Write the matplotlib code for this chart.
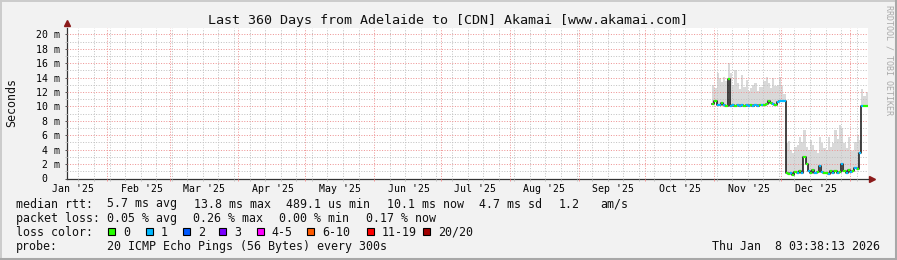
import numpy as np
import matplotlib
matplotlib.use('Agg')
import matplotlib.pyplot as plt
import matplotlib.dates as mdates
from matplotlib.patches import Rectangle
from matplotlib.lines import Line2D

plt.rcParams['font.family'] = ['DejaVu Sans Mono', 'DejaVu Sans']

# daily values, first day 2025-10-31 (ms)
dia_inicio = np.datetime64('2025-10-31')

mediana = [
    10.3, 10.8, 10.2, 10.2, 10.5, 10.2, 10.1,   # Oct31-Nov6
    13.8, 10.1, 10.2, 10.1, 10.2, 10.1, 10.2,   # Nov7-13
    10.1, 10.2, 10.1, 10.2, 10.1, 10.2, 10.1,   # Nov14-20
    10.2, 10.2, 10.2, 10.4, 10.7, 10.5, 10.4,   # Nov21-27
    10.2, 10.6, 10.7, 10.7, 10.7,               # Nov28-Dec2
    0.7, 0.6, 0.8, 0.5, 0.9, 0.7, 1.0,          # Dec3-9
    0.8, 3.0, 2.0, 1.1, 0.8, 1.2, 0.7,          # Dec10-16
    0.9, 1.8, 0.9, 0.7, 0.8, 0.6, 1.0,          # Dec17-23
    0.7, 1.1, 0.8, 0.9, 2.0, 1.0, 0.8,          # Dec24-30
    1.2, 0.9, 1.1, 1.5, 1.3, 3.6,               # Dec31-Jan5
    10.1, 10.1, 10.1,                           # Jan6-8
]

humo_max = [
    13.0, 12.6, 14.6, 13.9, 13.4, 14.1, 13.5,
    16.0, 14.6, 12.9, 15.1, 13.2, 12.4, 14.4,
    12.7, 13.7, 12.2, 12.5, 13.0, 13.2, 12.1,
    12.7, 12.7, 13.6, 14.1, 13.2, 12.5, 13.9,
    12.8, 13.0, 14.1, 12.9, 11.8,
    4.9, 5.2, 4.0, 3.6, 4.4, 4.6, 5.8,
    5.0, 6.7, 4.4, 3.9, 5.3, 4.6, 4.0,
    3.5, 5.8, 4.9, 4.2, 4.0, 5.8, 4.4,
    4.9, 6.7, 5.5, 7.4, 7.0, 4.9, 4.3,
    5.8, 4.0, 3.8, 5.1, 6.0, 5.3,
    12.4, 11.5, 12.0,
]

# lost pings out of 20, per day
perdida = [
    0, 0, 1, 1, 0, 1, 0,
    0, 1, 1, 0, 1, 1, 1,
    0, 1, 1, 0, 1, 1, 1,
    0, 1, 0, 0, 0, 0, 1,
    0, 1, 1, 1, 1,
    0, 0, 1, 0, 0, 1, 0,
    1, 0, 0, 1, 0, 0, 1,
    0, 1, 1, 0, 0, 1, 0,
    1, 0, 1, 0, 1, 0, 1,
    0, 1, 0, 1, 0, 1,
    1, 0, 0,
]

colores_perdida = ['#26FF00', '#00B8FF', '#0059FF', '#7A00FF',
                   '#FF00FF', '#FF5A00', '#FF0000', '#A10000']
etiquetas_perdida = ['0', '1', '2', '3', '4-5', '6-10', '11-19', '20/20']

meses = ['Jan', 'Feb', 'Mar', 'Apr', 'May', 'Jun',
         'Jul', 'Aug', 'Sep', 'Oct', 'Nov', 'Dec']
inicio_meses = np.arange('2025-02', '2026-02', dtype='datetime64[M]')
meses_etiqueta = np.arange('2025-01', '2026-01', dtype='datetime64[M]')

ytick_vals = list(range(0, 21, 2))
ytick_labels = [' 0'] + ['%2d m' % v for v in ytick_vals[1:]]

W, H = 897, 260


def fig_xy(x, y):
    return x / W, 1 - y / H


def a_num(d):
    return mdates.date2num(np.asarray(d).astype('datetime64[s]').astype(object))


fig = plt.figure(figsize=(W / 100, H / 100), dpi=100, facecolor='#F2F2F2')
ax = fig.add_axes([66.7 / W, (H - 178.5) / H, (868 - 66.7) / W, (178.5 - 28) / H])
ax.set_facecolor('white')

fechas = dia_inicio + np.arange(len(mediana))
x0 = a_num(fechas)
x1 = x0 + 1
x_ext = np.append(x0, x1[-1])
med_ext = np.append(mediana, mediana[-1])
humo_ext = np.append(humo_max, humo_max[-1])

# smoke
ax.fill_between(x_ext, med_ext, humo_ext, step='post', color='#D9D9D9', lw=0, zorder=1)
# median line: black steps, loss-coloured segments on top
ax.step(x_ext, med_ext, where='post', color='#111111', lw=1.1, zorder=3)
ax.hlines(mediana, x0, x1, colors=[colores_perdida[p] for p in perdida], lw=1.6, zorder=4)

# grid
ax.set_xticks(a_num(inicio_meses))
ax.set_xticklabels([])
ax.xaxis.set_minor_locator(mdates.WeekdayLocator(byweekday=mdates.SU))
ax.set_yticks(ytick_vals, ytick_labels)
ax.set_yticks(range(0, 21), minor=True)
ax.grid(True, which='major', color='#EE9494', lw=0.72, ls=(0, (1, 1.6)))
ax.grid(True, which='minor', color='#C2C2C2', lw=0.72, ls=(0, (1, 1.6)))
ax.set_axisbelow(False)

# axes ranges (after the ticks, so they are not widened)
ax.set_xlim(a_num(np.datetime64('2025-01-13T18:00')), a_num(np.datetime64('2026-01-09T02:00')))
ax.set_ylim(0, 20.9)

ax.tick_params(axis='both', which='both', direction='out', length=1.5, width=0.72)
ax.tick_params(axis='x', which='major', color='#EE9494')
ax.tick_params(axis='x', which='minor', color='#C2C2C2')
ax.tick_params(axis='y', which='major', color='#555555', labelsize=7.1, pad=20.8)
ax.tick_params(axis='y', which='minor', color='#C2C2C2')
for t in ax.get_yticklabels():
    t.set_ha('left')

for s in ['top', 'right']:
    ax.spines[s].set_visible(False)
for s in ['left', 'bottom']:
    ax.spines[s].set_color('#333333')
    ax.spines[s].set_linewidth(0.9)

# month labels in the middle of each month
mitad_meses = a_num(meses_etiqueta.astype('datetime64[D]') + 15) + 0.5
etiquetas_meses = ["%s '25" % m for m in meses]
sec = ax.secondary_xaxis('bottom')
sec.set_xticks(mitad_meses, etiquetas_meses)
sec.tick_params(length=0, labelsize=7.1, pad=4.0)
sec.spines['bottom'].set_visible(False)

# arrows at the axis ends
ax.plot([0], [1.032], marker='^', ms=5, color='#8B1A1A', transform=ax.transAxes, clip_on=False)
ax.plot([1.0045], [0], marker='>', ms=5, color='#8B1A1A', transform=ax.transAxes, clip_on=False)

# texts
fig.text(*fig_xy(448, 24), 'Last 360 Days from Adelaide to [CDN] Akamai [www.akamai.com]',
         ha='center', va='baseline', fontsize=9.6, color='#111111')
fig.text(*fig_xy(11.7, 102.5), 'Seconds', rotation=90, ha='center', va='center',
         fontsize=8.4, color='#111111')
fig.text(*fig_xy(889, 5), 'RRDTOOL / TOBI OETIKER', rotation=270, ha='center', va='top',
         fontsize=6, color='#AAAAAA')

tam = 8.35
col = '#111111'
b1, b2, b3, b4 = 207.5, 221.7, 235.9, 250.1
fig.text(*fig_xy(16, b1), 'median rtt:', fontsize=tam, color=col, va='baseline')
for x, s in [(107.3, '5.7 ms avg'), (194, '13.8 ms max'), (285.7, '489.1 us min'),
             (386.7, '10.1 ms now'), (479.3, '4.7 ms sd'), (558.3, '1.2'), (600.7, 'am/s')]:
    fig.text(*fig_xy(x, b1), s, fontsize=tam, color=col, va='baseline')

fig.text(*fig_xy(16, b2), 'packet loss:', fontsize=tam, color=col, va='baseline')
for x, s in [(107.3, '0.05 % avg'), (193.3, '0.26 % max'), (279.3, '0.00 % min'), (365.7, '0.17 % now')]:
    fig.text(*fig_xy(x, b2), s, fontsize=tam, color=col, va='baseline')

fig.text(*fig_xy(16, b3), 'loss color:', fontsize=tam, color=col, va='baseline')
cajas_x = [108.3, 145.7, 182.7, 219.3, 256.7, 307.0, 366.7, 422.7]
for x, c, s in zip(cajas_x, colores_perdida, etiquetas_perdida):
    fx, fy = fig_xy(x, 235)
    fig.patches.append(Rectangle((fx, fy), 7 / W, 7 / H, transform=fig.transFigure,
                                 facecolor=c, edgecolor='black', lw=0.8))
    fig.text(*fig_xy(x + 15, b3), s, fontsize=tam, color=col, va='baseline')

fig.text(*fig_xy(16, b4), 'probe:', fontsize=tam, color=col, va='baseline')
fig.text(*fig_xy(107.3, b4), '20 ICMP Echo Pings (56 Bytes) every 300s', fontsize=tam, color=col, va='baseline')
fig.text(*fig_xy(880, b4), 'Thu Jan  8 03:38:13 2026', fontsize=tam, color=col, va='baseline', ha='right')

# 3d frame
fig.lines.append(Line2D([0, 1], [1 - 1 / H, 1 - 1 / H], transform=fig.transFigure, color='#CBCBCB', lw=1.4))
fig.lines.append(Line2D([1 / W, 1 / W], [0, 1], transform=fig.transFigure, color='#CBCBCB', lw=1.4))
fig.lines.append(Line2D([0, 1], [1.5 / H, 1.5 / H], transform=fig.transFigure, color='#A8A8A8', lw=2.2))
fig.lines.append(Line2D([1 - 1.5 / W, 1 - 1.5 / W], [0, 1], transform=fig.transFigure, color='#A8A8A8', lw=2.2))

fig.savefig('out.png', dpi=100, facecolor=fig.get_facecolor())
